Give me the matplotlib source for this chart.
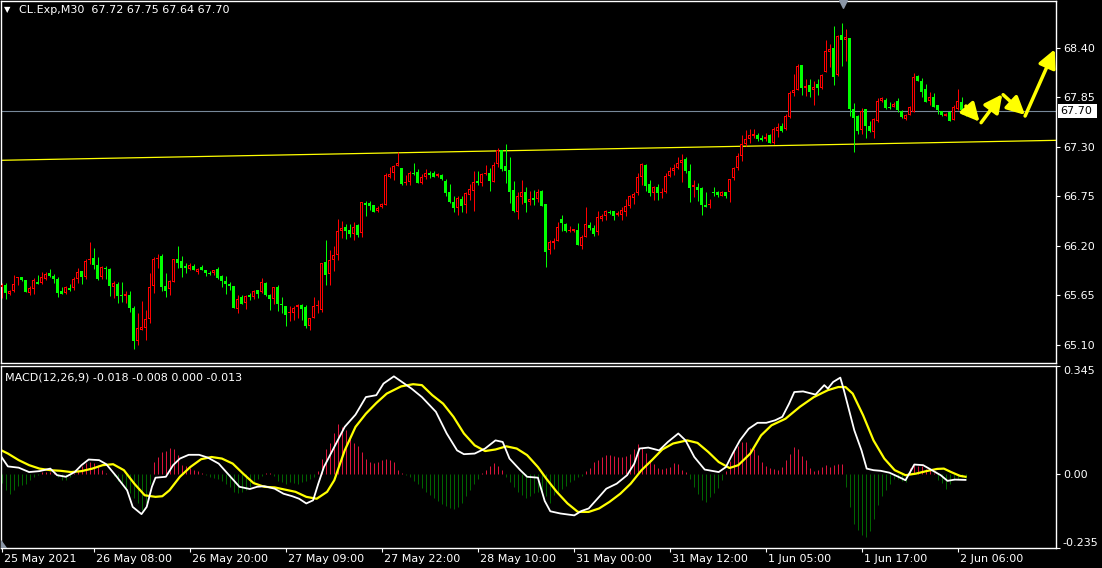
import matplotlib
matplotlib.use("Agg")
import matplotlib.pyplot as plt
import matplotlib.transforms as mtransforms
from matplotlib.patches import Rectangle
import numpy as np

# ---------------- data ----------------
opens = [
65.74,65.77,65.67,65.70,65.84,65.85,65.82,65.68,65.72,65.80,
65.79,65.83,65.90,65.87,65.83,65.70,65.68,65.73,65.73,65.83,
65.92,65.85,66.04,66.07,65.99,65.85,65.95,65.94,65.74,65.78,
65.66,65.64,65.66,65.51,65.14,65.27,65.29,65.39,65.75,66.05,
66.09,65.76,65.72,65.80,66.05,66.03,65.98,65.94,65.98,65.91,
65.97,65.93,65.90,65.90,65.94,65.87,65.81,65.78,65.76,65.50,
65.63,65.57,65.66,65.63,65.71,65.69,65.79,65.66,65.61,65.74,
65.56,65.53,65.45,65.45,65.52,65.54,65.52,65.31,65.40,65.53,
65.49,66.02,65.89,66.04,66.10,66.37,66.41,66.38,66.33,66.43,
66.34,66.68,66.68,66.66,66.59,66.63,66.66,66.97,67.01,67.09,
67.07,66.90,66.91,67.01,67.02,66.90,66.97,67.01,67.01,66.98,
66.99,66.92,66.80,66.69,66.62,66.72,66.66,66.77,66.81,66.92,
66.90,67.00,67.01,66.91,67.11,67.27,67.09,67.04,66.82,66.58,
66.74,66.80,66.69,66.73,66.72,66.81,66.67,66.15,66.23,66.26,
66.50,66.44,66.37,66.37,66.38,66.20,66.30,66.43,66.40,66.35,
66.50,66.53,66.58,66.59,66.54,66.54,66.58,66.64,66.73,66.79,
66.97,67.10,66.89,66.79,66.86,66.79,66.80,66.98,67.03,67.07,
67.12,67.17,67.03,66.85,66.86,66.84,66.65,66.66,66.80,66.80,
66.76,66.80,66.80,66.95,67.07,67.20,67.33,67.39,67.42,67.43,
67.40,67.39,67.43,67.34,67.48,67.53,67.50,67.63,67.90,67.93,
68.21,67.96,67.99,67.93,68.00,67.95,68.13,68.35,68.40,68.10,
68.54,68.49,68.51,67.72,67.64,67.49,67.72,67.53,67.47,67.59,
67.81,67.82,67.74,67.74,67.81,67.70,67.61,67.66,67.69,68.09,
68.03,67.94,67.81,67.86,67.77,67.70,67.64,67.69,67.60,67.72,
67.80,67.72]
highs = [
65.79,65.79,65.71,65.88,65.86,65.86,65.82,65.75,65.84,65.88,
65.91,65.91,65.94,65.89,65.86,65.74,65.76,65.78,65.86,65.96,
65.92,66.05,66.24,66.18,66.08,65.98,65.98,65.96,65.81,65.80,
65.80,65.70,65.70,65.53,65.45,65.59,65.49,65.90,66.08,66.11,
66.11,65.90,65.82,66.05,66.20,66.09,66.01,66.01,66.00,65.96,
65.99,65.93,65.92,65.93,65.97,65.88,65.87,65.80,65.76,65.66,
65.65,65.66,65.68,65.71,65.71,65.84,65.80,65.67,65.74,65.77,
65.63,65.53,65.53,65.53,65.56,65.55,65.54,65.40,65.63,65.60,
66.01,66.27,66.16,66.20,66.50,66.48,66.44,66.44,66.47,66.44,
66.69,66.70,66.70,66.66,66.64,66.68,67.01,67.08,67.10,67.24,
67.07,66.99,67.03,67.12,67.05,67.00,67.05,67.03,67.03,67.01,
67.00,66.94,66.89,66.75,66.75,66.75,66.80,66.89,67.03,67.03,
67.01,67.10,67.07,67.13,67.29,67.27,67.33,67.19,66.92,66.80,
66.93,66.86,66.81,66.82,66.83,66.82,66.67,66.27,66.29,66.47,
66.54,66.46,66.42,66.39,66.46,66.32,66.63,66.47,66.43,66.59,
66.56,66.60,66.60,66.59,66.59,66.63,66.72,66.77,66.80,67.01,
67.12,67.11,66.93,66.87,66.89,66.84,67.01,67.08,67.11,67.19,
67.22,67.19,67.11,66.93,66.90,66.85,66.80,66.72,66.86,66.81,
66.81,66.80,66.94,67.08,67.23,67.43,67.49,67.50,67.50,67.46,
67.43,67.45,67.44,67.52,67.57,67.57,67.67,67.92,68.11,68.22,
68.21,68.05,68.06,68.03,68.05,68.11,68.49,68.44,68.64,68.54,
68.68,68.61,68.51,67.79,67.66,67.73,67.72,67.59,67.62,67.84,
67.85,67.84,67.80,67.80,67.84,67.71,67.67,67.76,68.12,68.10,
68.07,68.00,67.91,67.90,67.77,67.70,67.68,67.70,67.77,67.94,
67.86,67.75]
lows = [
65.62,65.61,65.65,65.69,65.77,65.81,65.69,65.65,65.67,65.78,
65.78,65.82,65.85,65.79,65.63,65.67,65.67,65.70,65.71,65.79,
65.78,65.83,66.00,65.94,65.82,65.83,65.83,65.64,65.62,65.57,
65.58,65.57,65.47,65.06,65.10,65.27,65.16,65.34,65.68,65.95,
65.70,65.63,65.65,65.80,65.96,65.86,65.90,65.93,65.93,65.89,
65.93,65.87,65.88,65.88,65.83,65.74,65.67,65.71,65.51,65.46,
65.56,65.50,65.60,65.61,65.62,65.68,65.64,65.49,65.56,65.48,
65.46,65.31,65.37,65.38,65.40,65.38,65.29,65.27,65.40,65.46,
65.47,65.77,65.77,65.92,66.04,66.29,66.28,66.30,66.27,66.30,
66.30,66.53,66.60,66.58,66.58,66.62,66.66,66.95,66.93,67.09,
66.88,66.88,66.88,66.99,66.90,66.89,66.94,66.96,66.97,66.97,
66.93,66.75,66.68,66.58,66.54,66.58,66.57,66.71,66.59,66.88,
66.87,66.99,66.81,66.91,67.08,67.03,66.90,66.68,66.58,66.50,
66.67,66.58,66.66,66.66,66.69,66.64,65.97,66.11,66.17,66.25,
66.37,66.36,66.36,66.36,66.21,66.17,66.30,66.38,66.31,66.32,
66.48,66.49,66.56,66.49,66.53,66.49,66.53,66.62,66.67,66.77,
66.88,66.81,66.76,66.71,66.71,66.73,66.79,66.97,66.99,67.06,
66.91,67.01,66.69,66.74,66.70,66.54,66.63,66.62,66.75,66.74,
66.75,66.73,66.69,66.93,67.04,67.14,67.31,67.34,67.40,67.37,
67.37,67.37,67.34,67.33,67.41,67.47,67.49,67.62,67.87,67.93,
67.88,67.87,67.85,67.77,67.88,67.94,68.13,68.19,67.99,68.09,
68.20,68.25,67.64,67.24,67.44,67.44,67.40,67.47,67.40,67.58,
67.80,67.72,67.72,67.74,67.69,67.62,67.60,67.66,67.69,68.03,
67.86,67.80,67.77,67.74,67.67,67.64,67.64,67.59,67.60,67.71,
67.67,67.64]
closes = [
65.77,65.68,65.70,65.78,65.85,65.82,65.69,65.73,65.82,65.78,
65.85,65.89,65.87,65.83,65.68,65.67,65.74,65.71,65.83,65.91,
65.86,66.03,66.05,65.99,65.83,65.97,65.94,65.75,65.79,65.64,
65.64,65.67,65.51,65.14,65.29,65.30,65.39,65.74,66.05,66.07,
65.74,65.70,65.81,66.05,66.01,65.96,65.95,65.99,65.93,65.94,
65.93,65.90,65.89,65.93,65.84,65.81,65.78,65.76,65.51,65.61,
65.56,65.64,65.63,65.70,65.67,65.80,65.66,65.61,65.74,65.56,
65.54,65.43,65.47,65.51,65.54,65.50,65.31,65.40,65.53,65.54,
66.01,65.88,66.04,66.10,66.37,66.40,66.37,66.33,66.41,66.32,
66.69,66.66,66.64,66.58,66.62,66.67,66.99,67.00,67.09,67.12,
66.89,66.91,67.01,67.00,66.90,66.97,67.01,66.99,66.97,67.00,
66.94,66.79,66.69,66.62,66.73,66.64,66.79,66.83,66.91,66.90,
67.00,67.01,66.92,67.10,67.27,67.06,67.03,66.80,66.59,66.76,
66.80,66.68,66.72,66.71,66.80,66.64,66.13,66.24,66.26,66.41,
66.45,66.37,66.38,66.39,66.21,66.30,66.44,66.40,66.33,66.52,
66.53,66.59,66.57,66.53,66.57,66.60,66.64,66.75,66.78,66.97,
67.11,66.87,66.79,66.85,66.79,66.80,66.98,67.03,67.07,67.12,
67.16,67.03,66.84,66.88,66.82,66.65,66.63,66.67,66.79,66.77,
66.80,66.76,66.94,67.07,67.20,67.33,67.39,67.43,67.44,67.39,
67.38,67.41,67.34,67.50,67.52,67.48,67.64,67.90,67.93,68.20,
67.95,67.98,67.91,67.97,67.96,68.10,68.37,68.39,68.08,68.53,
68.49,68.52,67.72,67.62,67.48,67.70,67.53,67.48,67.61,67.81,
67.84,67.73,67.73,67.78,67.71,67.63,67.66,67.74,68.08,68.03,
67.91,67.80,67.86,67.74,67.71,67.66,67.67,67.59,67.74,67.81,
67.71,67.70]

hist = [
-0.028,-0.051,-0.062,-0.051,-0.038,-0.035,-0.030,-0.019,-0.008,-0.003,
0.007,0.007,0.007,0.004,-0.010,-0.017,-0.017,-0.010,0.005,0.012,
0.025,0.035,0.039,0.035,0.030,0.015,0.005,0.000,-0.005,-0.020,
-0.035,-0.050,-0.060,-0.075,-0.090,-0.115,-0.090,-0.030,0.040,0.055,
0.070,0.075,0.085,0.080,0.060,0.030,0.025,0.020,0.015,0.010,
0.005,-0.003,-0.008,-0.012,-0.015,-0.020,-0.030,-0.040,-0.055,-0.060,
-0.055,-0.050,-0.040,-0.030,-0.015,-0.005,0.003,0.003,-0.005,-0.020,
-0.025,-0.030,-0.025,-0.028,-0.030,-0.025,-0.020,-0.015,-0.010,0.010,
0.050,0.080,0.100,0.130,0.160,0.150,0.140,0.120,0.100,0.090,
0.070,0.050,0.040,0.035,0.040,0.045,0.048,0.045,0.040,0.015,
0.005,-0.003,-0.010,-0.020,-0.030,-0.045,-0.055,-0.065,-0.075,-0.085,
-0.095,-0.100,-0.108,-0.110,-0.105,-0.090,-0.070,-0.050,-0.030,-0.015,
0.005,0.015,0.025,0.035,0.025,0.015,-0.010,-0.025,-0.040,-0.055,
-0.065,-0.075,-0.070,-0.060,-0.055,-0.060,-0.070,-0.093,-0.067,-0.056,
-0.046,-0.038,-0.026,-0.018,-0.010,-0.004,0.010,0.021,0.038,0.047,
0.056,0.061,0.061,0.057,0.055,0.055,0.059,0.065,0.080,0.096,
0.085,0.068,0.047,0.032,0.019,0.018,0.020,0.024,0.036,0.032,
0.013,0.006,-0.014,-0.040,-0.062,-0.081,-0.088,-0.072,-0.059,-0.044,
-0.017,0.011,0.041,0.073,0.090,0.102,0.103,0.085,0.079,0.061,
0.039,0.025,0.019,0.018,0.013,0.022,0.045,0.065,0.087,0.079,
0.058,0.047,0.021,0.010,0.013,0.023,0.028,0.023,0.029,0.034,
0.034,-0.040,-0.104,-0.160,-0.178,-0.194,-0.200,-0.181,-0.143,-0.097,
-0.069,-0.049,-0.030,-0.016,-0.016,-0.021,-0.024,0.021,0.029,0.025,
0.025,0.018,0.012,0.004,-0.019,-0.028,-0.046,-0.030,-0.019,-0.014,
-0.008,-0.013]

macd_bar = [0,1.6,4.3,6.9,9.5,12.2,13.9,16.1,18.3,20.0,21.8,24.4,26.2,28.8,31.4,32.8,
            35.0,36.3,37.6,38.5,41.1,42.9,44.6,46.8,49.4,51.6,54.3,56.9,59.5,62.1,63.9,
            65.7,68.3,70.5,72.7,74.4,76.2,77.9,79.2,80.6,83.2,85.8,88.5,91.1,93.7,95.5,
            98.1,100.7,102.5,105.1,108.6,111.3,113.9,115.6,118.3,120.9,123.5,125.3,127.0,
            129.7,131.4,134.1,135.8,137.2,139.7,143.2,145.0,146.8,149.4,151.2,153.8,156.4,
            158.2,159.5,161.7,164.4,166.6,169.2,171.0,173.2,175.8,179.3,181.1,182.8,184.6,
            186.8,189.0,191.2,193.4,195.2,196.9,198.2,200.4,203.5,205.7,206.6,207.9,209.7,
            210.6,211.9,213.2,215.0,216.3,218.0,219.8,222.0,224.2,226.0,228.2,230.4,232.6,
            234.8,236.5,238.3,241]
macd_line = [0.055,0.025,0.021,0.007,0.010,0.018,-0.003,-0.008,0.007,0.029,0.047,0.045,
             0.032,-0.008,-0.051,-0.104,-0.127,-0.104,-0.040,-0.011,-0.008,0.029,0.050,
             0.062,0.062,0.053,0.034,-0.003,-0.040,-0.047,-0.040,-0.038,-0.046,-0.062,
             -0.070,-0.078,-0.093,-0.083,-0.030,0.023,0.087,0.151,0.190,0.246,0.252,0.289,
             0.312,0.289,0.273,0.246,0.199,0.130,0.076,0.064,0.066,0.082,0.108,0.103,0.050,
             0.013,-0.008,-0.011,-0.085,-0.118,-0.125,-0.131,-0.117,-0.109,-0.072,-0.046,
             -0.030,-0.003,0.034,0.082,0.085,0.076,0.103,0.130,0.108,0.055,0.015,0.007,
             0.023,0.066,0.108,0.145,0.164,0.164,0.172,0.183,0.225,0.262,0.264,0.254,0.284,
             0.273,0.294,0.308,0.268,0.204,0.140,0.076,0.018,0.013,0.011,0.005,-0.008,
             -0.019,0.031,0.029,0.013,-0.003,-0.021,-0.017,-0.018]
signal_bar = [0,1.6,4.3,6.9,9.5,12.2,14.8,17.4,20.0,22.7,25.3,27.9,30.6,33.2,35.8,38.5,
              40.2,42.0,44.6,47.2,49.9,52.5,55.1,57.8,60.4,63.0,65.7,68.3,70.9,73.5,76.2,
              78.8,81.4,83.2,85.8,88.5,91.1,93.7,96.3,99.9,102.9,105.1,107.7,110.4,113.0,
              115.6,118.3,120.9,123.5,126.2,128.8,131.4,134.1,136.2,138.8,141.5,144.1,146.8,
              149.4,152.0,154.7,157.3,160.0,162.6,165.2,167.9,171.4,174.0,176.7,179.3,182.0,
              184.2,187.2,189.9,192.5,196.0,199.6,203.1,206.6,209.2,211.0,212.8,215.4,218.0,
              220.7,223.3,226.0,228.6,231.2,233.9,235.6,237.4,239.6,241]
signal_line = [0.076,0.066,0.045,0.029,0.018,0.013,0.011,0.007,0.010,0.018,0.029,0.032,
               0.013,-0.030,-0.067,-0.072,-0.070,-0.051,-0.008,0.023,0.048,0.055,0.050,
               0.034,0.002,-0.028,-0.040,-0.042,-0.049,-0.056,-0.072,-0.078,-0.056,-0.019,
               0.076,0.151,0.193,0.227,0.257,0.280,0.287,0.284,0.252,0.225,0.183,0.130,
               0.092,0.074,0.079,0.089,0.082,0.061,0.023,-0.014,-0.056,-0.093,-0.120,-0.120,
               -0.109,-0.088,-0.062,-0.030,0.013,0.045,0.079,0.098,0.108,0.100,0.071,0.039,
               0.020,0.029,0.066,0.124,0.156,0.177,0.215,0.246,0.268,0.278,0.278,0.257,
               0.188,0.108,0.050,0.013,-0.003,0.002,0.010,0.017,0.018,0.007,-0.005,-0.008]

time_label_bars = [0, 23, 47, 71, 95, 119, 143, 167, 191, 215, 239]
time_labels = ["25 May 2021", "26 May 08:00", "26 May 20:00", "27 May 09:00",
               "27 May 22:00", "28 May 10:00", "31 May 00:00", "31 May 12:00",
               "1 Jun 05:00", "1 Jun 17:00", "2 Jun 06:00"]
price_ticks = [65.10, 65.65, 66.20, 66.75, 67.30, 67.85, 68.40]
macd_ticks = [-0.235, 0.0, 0.345]
macd_tick_labels = ["-0.235", "0.00", "0.345"]

trend_bars = [-0.3, 263.7]
trend_prices = [67.152, 67.374]
last_price = 67.70

arrow_start_bar = [241.1, 244.9, 250.4, 255.9]
arrow_start_price = [67.755, 67.570, 67.881, 67.644]
arrow_end_bar = [244.5, 250.2, 255.9, 263.3]
arrow_end_price = [67.581, 67.886, 67.656, 68.385]

title_text = "CL.Exp,M30  67.72 67.75 67.64 67.70"
macd_text = "MACD(12,26,9) -0.018 -0.008 0.000 -0.013"

# ---------------- figure ----------------
W, H = 1102, 568
fig = plt.figure(figsize=(W / 100, H / 100), dpi=100, facecolor="black")

def rect(x0, y0, x1, y1):
    return [x0 / W, 1 - y1 / H, (x1 - x0) / W, (y1 - y0) / H]

ax = fig.add_axes(rect(1, 1, 1056, 363), facecolor="black")
axm = fig.add_axes(rect(1, 366, 1056, 548), facecolor="black")

FS = 8.0
UP = "#ff0000"
DN = "#00ff00"
PX = 0.72

YMIN, YMAX = 64.900, 68.922
px_price = (YMAX - YMIN) / 362.0      # price span of one pixel

o = np.array(opens); h = np.array(highs); l = np.array(lows); c = np.array(closes)
idx = np.arange(len(c))
up = c >= o
lo_b = np.minimum(o, c)
hi_b = np.maximum(o, c)
hgt = np.maximum(hi_b - lo_b, px_price)

ax.vlines(idx[up], l[up], h[up], color=UP, lw=PX, zorder=2)
ax.vlines(idx[~up], l[~up], h[~up], color=DN, lw=PX, zorder=2)
# filled outer bodies (3 px wide)
ax.bar(idx[~up], hgt[~up], bottom=lo_b[~up], width=0.75, color=DN, linewidth=0, zorder=3)
ax.bar(idx[up], hgt[up], bottom=lo_b[up], width=0.75, color=UP, linewidth=0, zorder=3)
# hollow interior of bullish candles
inner = up & (hgt > 2.2 * px_price)
ax.bar(idx[inner], hgt[inner] - 2 * px_price, bottom=lo_b[inner] + px_price, width=0.25,
       color="black", linewidth=0, zorder=4)

ax.plot(trend_bars, trend_prices, color="#ffff00", lw=0.9, zorder=1)
ax.axhline(last_price, color="#778899", lw=0.8, zorder=1)

for sb, sp, eb, ep in zip(arrow_start_bar, arrow_start_price, arrow_end_bar, arrow_end_price):
    ax.annotate("", xy=(eb, ep), xytext=(sb, sp),
                arrowprops=dict(arrowstyle="-|>,head_length=0.9,head_width=0.45",
                                color="#ffff00", lw=2.5, shrinkA=0, shrinkB=0,
                                mutation_scale=12),
                annotation_clip=False, zorder=5)

xlim = ((1 - 1.5) / 4, (1056 - 1.5) / 4)
ax.set_xlim(*xlim)
ax.set_ylim(YMIN, YMAX)

ax.yaxis.tick_right()
ax.set_yticks(price_ticks)
ax.set_yticklabels([f"{v:.2f}" for v in price_ticks])
ax.tick_params(axis="y", colors="white", labelcolor="white", length=3, width=0.8,
               pad=2, labelsize=FS)
ax.set_xticks([])
for s in ax.spines.values():
    s.set_color("white"); s.set_linewidth(1)

# current price box
btr = mtransforms.blended_transform_factory(ax.transAxes, ax.transData)
ax.add_patch(Rectangle((1.0018, last_price - 0.078), 39 / 1055, 0.156, transform=btr,
                       facecolor="white", edgecolor="none", clip_on=False, zorder=6))
ax.text(1.0045, last_price, f"{last_price:.2f}", transform=btr, color="black",
        fontsize=FS, va="center", ha="left", zorder=7, clip_on=False)

# top marker
ax.scatter([210.4], [0.992], marker="v", s=30, color="#8a96a6",
           transform=mtransforms.blended_transform_factory(ax.transData, ax.transAxes),
           clip_on=False, zorder=6)

# ---------------- MACD ----------------
hv = np.array(hist)
hcol = np.where(hv >= 0, "#dc143c", "#006400")
axm.vlines(idx, 0, hv, colors=hcol, lw=PX, zorder=1)
axm.plot(macd_bar, macd_line, color="white", lw=1.3, zorder=3)
axm.plot(signal_bar, signal_line, color="#ffff00", lw=1.6, zorder=2)
axm.set_xlim(*xlim)
axm.set_ylim(-0.235, 0.345)
axm.yaxis.tick_right()
axm.set_yticks(macd_ticks)
axm.set_yticklabels(macd_tick_labels)
axm.tick_params(axis="y", colors="white", labelcolor="white", length=3, width=0.8,
                pad=2, labelsize=FS)
ylabels = axm.get_yticklabels()
ylabels[0].set_va("bottom")
ylabels[2].set_va("top")
axm.set_xticks(time_label_bars)
axm.set_xticklabels(time_labels)
axm.tick_params(axis="x", colors="white", labelcolor="white", length=3, width=0.8,
                pad=1.5, labelsize=FS)
offset = mtransforms.ScaledTranslation(3 / 100, 0, fig.dpi_scale_trans)
for lab in axm.get_xticklabels():
    lab.set_ha("left")
    lab.set_transform(lab.get_transform() + offset)
for s in axm.spines.values():
    s.set_color("white"); s.set_linewidth(1)

axm.add_patch(plt.Polygon([[0, 0], [0.005, 0], [0, 0.04]], closed=True,
                          transform=axm.transAxes, color="#8a96a6", zorder=4))

# ---------------- texts ----------------
fig.text(4 / W, 1 - 10 / H, "\u25bc", color="white", fontsize=6, va="center", ha="left")
fig.text(19 / W, 1 - 10 / H, title_text, color="white", fontsize=FS, va="center", ha="left")
fig.text(5 / W, 1 - 377 / H, macd_text, color="white", fontsize=FS, va="center", ha="left")

fig.savefig("out.png", dpi=100, facecolor="black")
